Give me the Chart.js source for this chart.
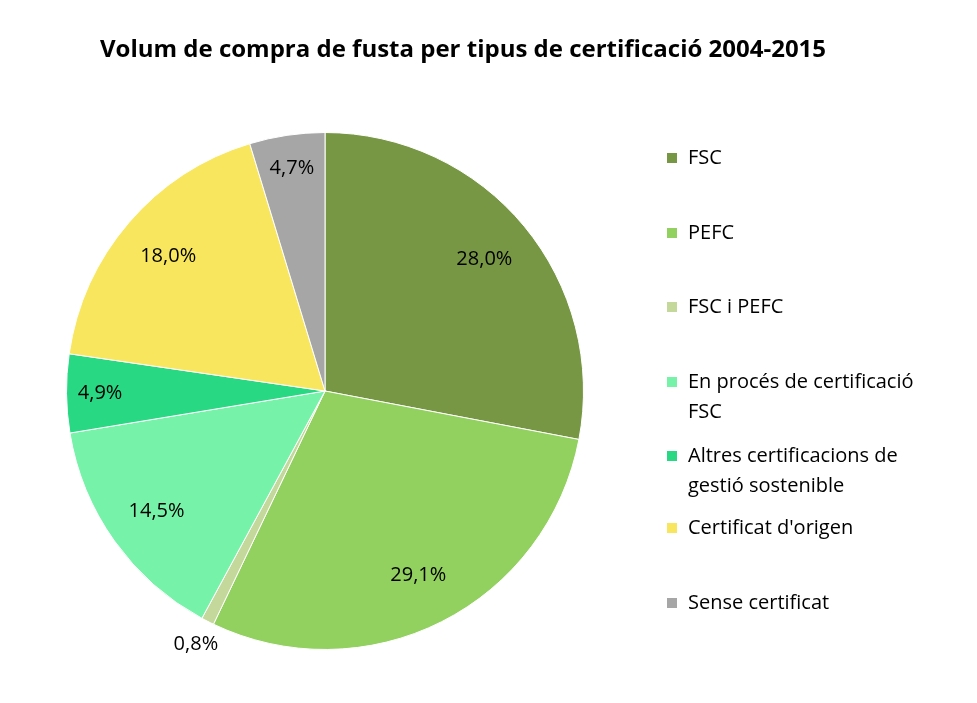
<!DOCTYPE html>
<html><head><meta charset="utf-8">
<script src="https://cdn.jsdelivr.net/npm/chart.js@4"></script>
<style>body{margin:0;background:#fff}#w{width:977px;height:703px}</style>
</head><body><div id="w"><canvas id="c"></canvas></div>
<script>
const categories = ["FSC","PEFC","FSC i PEFC","En procés de certificació FSC","Altres certificacions de gestió sostenible","Certificat d'origen","Sense certificat"];
const legendLines = [["FSC"],["PEFC"],["FSC i PEFC"],["En procés de certificació","FSC"],["Altres certificacions de","gestió sostenible"],["Certificat d'origen"],["Sense certificat"]];
const values = [28.0,29.1,0.8,14.5,4.9,18.0,4.7];
const labels = ["28,0%","29,1%","0,8%","14,5%","4,9%","18,0%","4,7%"];
const colors = ["#789745","#92d05f","#c4d89c","#77f2a9","#28d883","#f8e65e","#a6a6a6"];
const FONT = "'Open Sans', sans-serif";
const deco = {
  id:'deco',
  afterDatasetsDraw(chart){
    const ctx = chart.ctx;
    ctx.save();
    ctx.fillStyle='#000';
    ctx.font = "bold 24px "+FONT;
    ctx.textAlign='center'; ctx.textBaseline='middle';
    ctx.fillText("Volum de compra de fusta per tipus de certificació 2004-2015", 463, 50);
    ctx.font = "20px "+FONT;
    chart.getDatasetMeta(0).data.forEach((a,i)=>{
      const mid=(a.startAngle+a.endAngle)/2;
      const f = values[i]<2 ? 1.1 : (values[i]<6 ? 0.87 : 0.8);
      const x=a.x+Math.cos(mid)*a.outerRadius*f, y=a.y+Math.sin(mid)*a.outerRadius*f;
      ctx.fillText(labels[i], x, y);
    });
    const ys=[158,233,307,382,456,528,603];
    ctx.textAlign='left';
    legendLines.forEach((ls,i)=>{
      ctx.fillStyle=colors[i]; ctx.fillRect(667,ys[i]-5,10,10);
      ctx.fillStyle='#000';
      ls.forEach((t,j)=>ctx.fillText(t,688,ys[i]+j*30));
    });
    ctx.restore();
  }
};
new Chart(document.getElementById('c'),{
  type:'pie',
  data:{labels:categories,datasets:[{data:values,backgroundColor:colors,borderColor:'#fff',borderWidth:1}]},
  options:{responsive:true,maintainAspectRatio:false,animation:false,
    layout:{padding:{left:66,right:393,top:132,bottom:53}},
    plugins:{legend:{display:false},tooltip:{enabled:false}}},
  plugins:[deco]
});
</script></body></html>
